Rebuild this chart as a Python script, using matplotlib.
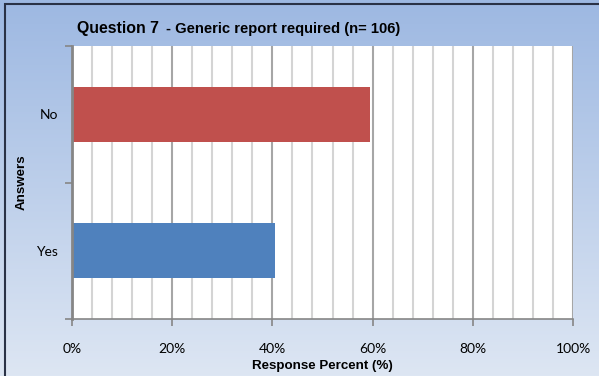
import numpy as np
import matplotlib.pyplot as plt
from matplotlib.ticker import MultipleLocator, PercentFormatter
from matplotlib.lines import Line2D

# respuestas (n = 106)
answers = ["Yes", "No"]
counts = [43, 63]
total = 106
colors = ["#4f81bd", "#c0504d"]
percents = [c / total * 100 for c in counts]

W, H = 599, 376
fig = plt.figure(figsize=(W / 100, H / 100), dpi=100)

# fondo degradado azul
bg = fig.add_axes([0, 0, 1, 1], zorder=-1)
grad = np.linspace(0, 1, 256).reshape(-1, 1)
top = np.array([0.616, 0.722, 0.886])
bot = np.array([0.867, 0.902, 0.953])
img = top + (bot - top) * grad[..., None]
bg.imshow(img, aspect="auto", extent=[0, 1, 0, 1], origin="upper")
bg.set_xlim(0, 1)
bg.set_ylim(0, 1)
bg.axis("off")

# marco (solo izquierda y arriba)
fig.add_artist(Line2D([5 / W, 5 / W, 1.01], [-0.01, 1 - 4 / H, 1 - 4 / H],
                      color="#2a3246", lw=1.5, solid_joinstyle="miter"))

left, right, ytop, ybot = 72, 573, 46, 319
ax = fig.add_axes([left / W, 1 - ybot / H, (right - left) / W, (ybot - ytop) / H])
ax.set_facecolor("white")

y = np.arange(len(answers))
ax.barh(y, percents, height=0.4, color=colors, zorder=3)

ax.set_xlim(0, 100)
ax.set_ylim(-0.5, 1.5)
ax.xaxis.set_major_locator(MultipleLocator(20))
ax.xaxis.set_minor_locator(MultipleLocator(4))
ax.xaxis.set_major_formatter(PercentFormatter(decimals=0))
ax.grid(axis="x", which="minor", color="#d4d4d4", lw=1.5, zorder=0)
ax.grid(axis="x", which="major", color="#a6a6a6", lw=1.5, zorder=1)

ax.set_yticks(y)
ax.set_yticklabels(answers, family="Lato")
ax.set_yticks([-0.5, 0.5, 1.5], minor=True)
ax.tick_params(axis="y", which="major", length=0, pad=10, labelsize=10)
ax.tick_params(axis="y", which="minor", length=5, color="#868686", width=1.2)
ax.tick_params(axis="x", which="major", length=5, color="#868686", width=1.2,
               pad=12, labelsize=10)
ax.tick_params(axis="x", which="minor", length=0)
for lbl in ax.get_xticklabels():
    lbl.set_family("Lato")

for s in ["top", "right"]:
    ax.spines[s].set_visible(False)
ax.spines["left"].set_color("#868686")
ax.spines["left"].set_linewidth(2)
ax.spines["bottom"].set_color("#868686")
ax.spines["bottom"].set_linewidth(1.2)
ax.spines["left"].set_zorder(4)

ax.set_xlabel("Response Percent (%)", fontsize=9.6, fontweight="bold",
              family="Liberation Sans", labelpad=4)
ax.set_ylabel("Answers", fontsize=9.6, fontweight="bold",
              family="Liberation Sans", labelpad=6)

fig.text(77 / W, 1 - 33 / H, "Question 7", fontsize=11.4, fontweight="bold",
         family="Liberation Sans", va="baseline", ha="left")
fig.text(166 / W, 1 - 33 / H, "- Generic report required (n= 106)", fontsize=10.6,
         fontweight="bold", family="Liberation Sans", va="baseline", ha="left")

fig.savefig("out.png", dpi=100)
